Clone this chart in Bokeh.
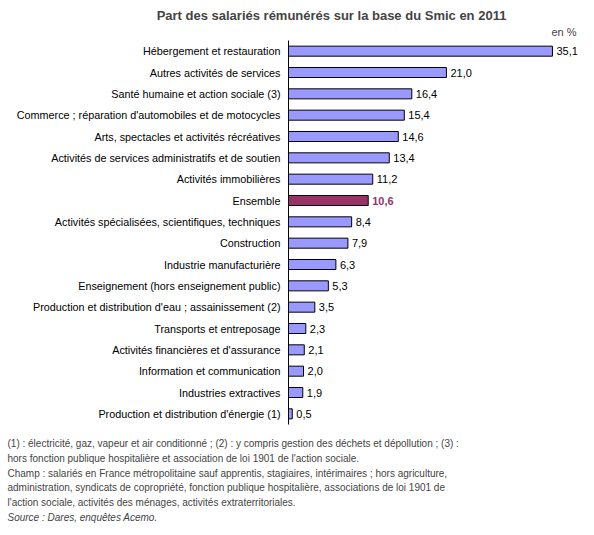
from bokeh.plotting import figure
from bokeh.models import Range1d, Label, ColumnDataSource
from bokeh.core.properties import value
from bokeh.embed import file_html
from bokeh.resources import INLINE

title = "Part des salariés rémunérés sur la base du Smic en 2011"
unit = "en %"
categories = [
    "Hébergement et restauration",
    "Autres activités de services",
    "Santé humaine et action sociale (3)",
    "Commerce ; réparation d'automobiles et de motocycles",
    "Arts, spectacles et activités récréatives",
    "Activités de services administratifs et de soutien",
    "Activités immobilières",
    "Ensemble",
    "Activités spécialisées, scientifiques, techniques",
    "Construction",
    "Industrie manufacturière",
    "Enseignement (hors enseignement public)",
    "Production et distribution d'eau ; assainissement (2)",
    "Transports et entreposage",
    "Activités financières et d'assurance",
    "Information et communication",
    "Industries extractives",
    "Production et distribution d'énergie (1)",
]
values = [35.1, 21.0, 16.4, 15.4, 14.6, 13.4, 11.2, 10.6, 8.4, 7.9, 6.3, 5.3, 3.5, 2.3, 2.1, 2.0, 1.9, 0.5]
highlight = "Ensemble"
notes = [
    "(1) : électricité, gaz, vapeur et air conditionné ; (2) : y compris gestion des déchets et dépollution ; (3) :",
    "hors fonction publique hospitalière et association de loi 1901 de l'action sociale.",
    "Champ : salariés en France métropolitaine sauf apprentis, stagiaires, intérimaires ;  hors agriculture,",
    "administration, syndicats de copropriété, fonction publique hospitalière, associations de loi 1901 de",
    "l'action sociale, activités des ménages, activités extraterritoriales.",
    "Source : Dares, enquêtes Acemo.",
]

# layout (canvas pixels)
W, H = 592, 533
AXIS_X = 288          # x of the vertical axis line
PLOT_TOP, PLOT_BOTTOM = 40, 424
PX_PER_UNIT = 7.52
n = len(categories)
ROW = (PLOT_BOTTOM - PLOT_TOP) / n

x_range = Range1d(-AXIS_X / PX_PER_UNIT, (W - AXIS_X) / PX_PER_UNIT)
# inverted numeric y range: row i sits at y = i
y_range = Range1d(start=(H - PLOT_TOP) / ROW - 0.5, end=-PLOT_TOP / ROW - 0.5)

BLUE = "#9999ff"
PURPLE = "#993366"

fills = [PURPLE if c == highlight else BLUE for c in categories]
tcolors = [PURPLE if c == highlight else "black" for c in categories]
tstyles = ["bold" if c == highlight else "normal" for c in categories]
labels = [f"{v:.1f}".replace(".", ",") for v in values]
rows = list(range(n))

src = ColumnDataSource(dict(row=rows, cat=categories, val=values, fill=fills,
                            tc=tcolors, ts=tstyles, lab=labels))

p = figure(width=W, height=H, output_backend="svg", toolbar_location=None,
           x_range=x_range, y_range=y_range,
           min_border_left=0, min_border_right=0, min_border_top=0,
           min_border_bottom=0)
p.outline_line_color = None
p.grid.visible = False
p.axis.visible = False

p.hbar(y="row", right="val", left=0, height=0.47, fill_color="fill",
       line_color="black", line_width=1, source=src)
# value labels
p.text(x="val", y="row", text="lab", x_offset=4, text_baseline="middle",
       text_align="left", text_font_size="11px", text_color="tc",
       text_font_style="ts", text_font=value("Liberation Sans"), source=src)
# category labels
p.text(x=0, y="row", text="cat", x_offset=-8, text_baseline="middle",
       text_align="right", text_font_size="10.8px", text_color="black",
       text_font=value("Liberation Sans"), source=src)
# axis line
p.segment(x0=[0], y0=[-0.5], x1=[0], y1=[n - 0.5], line_color="black", line_width=1)


def canvas_label(cx, cy, text, **kw):
    p.add_layout(Label(x=cx, y=H - cy, x_units="screen", y_units="screen",
                       text=text, text_baseline="middle", **kw))


canvas_label(331, 15, title, text_font="Liberation Sans",
             text_font_style="bold", text_font_size="13px", text_align="center")
canvas_label(576, 31, unit, text_font="Liberation Sans", text_font_size="11px",
             text_align="right")

y0 = 443
for i, t in enumerate(notes):
    canvas_label(7, y0 + i * 14.8, t, text_font="Liberation Sans", text_font_size="10px",
                 text_font_style="italic" if t.startswith("Source") else "normal",
                 text_align="left")

open("out.html", "w").write(file_html(p, INLINE))
